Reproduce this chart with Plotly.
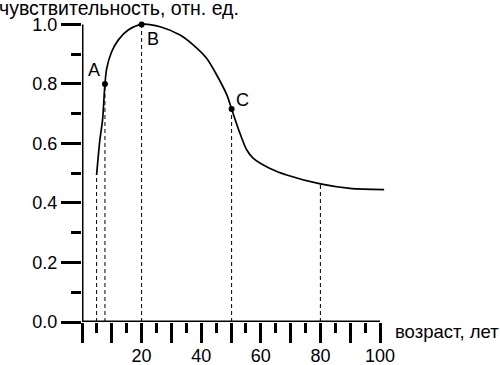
import plotly.graph_objects as go

# Curve data (age, relative sensitivity)
age = [4.9, 6.0, 6.9, 7.7, 8.3, 9.95, 12.2, 15.5, 20.0, 26.2, 32.9, 37.3, 41.8, 45.2,
       48.6, 50.2, 53.0, 55.3, 57.5, 63.1, 68.7, 80.0, 89.9, 101.4]
sens = [0.494, 0.612, 0.679, 0.80, 0.852, 0.908, 0.948, 0.981, 1.0, 0.992, 0.964, 0.931,
        0.886, 0.830, 0.763, 0.716, 0.634, 0.578, 0.550, 0.516, 0.494, 0.464, 0.449, 0.445]

# Marked points
pt_labels = ["A", "B", "C"]
pt_x = [7.7, 20.0, 50.2]
pt_y = [0.80, 1.0, 0.716]

# Dashed drop lines
drop_x = [4.9, 7.7, 20.0, 50.2, 80.0]
drop_y = [0.494, 0.80, 1.0, 0.716, 0.464]

x_ticks = list(range(0, 101, 10))
x_ticktext = ["" if (v % 20 or v == 0) else str(v) for v in x_ticks]
y_ticks = [0.0, 0.2, 0.4, 0.6, 0.8, 1.0]
y_ticktext = ["0.0", "0.2", "0.4", "0.6", "0.8", "1.0"]

FONT = "Liberation Sans, Arial, sans-serif"
W, H = 500, 365

fig = go.Figure()
fig.add_trace(go.Scatter(x=age, y=sens, mode="lines",
                         line=dict(color="black", width=1.7, shape="spline", smoothing=0.8),
                         hoverinfo="skip", showlegend=False))
fig.add_trace(go.Scatter(x=pt_x, y=pt_y, mode="markers",
                         marker=dict(color="black", size=6),
                         cliponaxis=False, showlegend=False))

for xv, yv in zip(drop_x, drop_y):
    fig.add_shape(type="line", x0=xv, x1=xv, y0=0, y1=yv, xref="x", yref="y",
                  line=dict(color="black", width=1, dash="4px,3px"))

# axis lines
fig.add_shape(type="line", x0=0, x1=100, y0=0, y1=0, xref="x", yref="y",
              line=dict(color="black", width=3))
fig.add_shape(type="line", x0=0, x1=0, y0=0, y1=1.0, xref="x", yref="y",
              line=dict(color="black", width=3))

# point labels
offsets = [(-11, 14), (11, -15), (11, 9)]
for lab, xv, yv, (dx, dy) in zip(pt_labels, pt_x, pt_y, offsets):
    fig.add_annotation(x=xv, y=yv, text=lab, showarrow=False, xshift=dx, yshift=dy,
                       font=dict(family=FONT, size=18, color="black"))

fig.add_annotation(x=241 / W, y=1 - 8 / H, xref="paper", yref="paper",
                   text="чувствительность, отн. ед.", showarrow=False,
                   xanchor="right", yanchor="middle",
                   font=dict(family=FONT, size=19.5, color="black"))
fig.add_annotation(x=393 / W, y=1 - 331 / H, xref="paper", yref="paper",
                   text="возраст, лет", showarrow=False,
                   xanchor="left", yanchor="middle",
                   font=dict(family=FONT, size=18.5, color="black"))

x_px0, px_per = 82, 2.98
x_max = 101.6
y_px0, ypx_per = 322, 297.6
y_max = 1.03

fig.update_layout(
    width=W, height=H,
    margin=dict(l=0, r=0, t=0, b=0, autoexpand=False),
    paper_bgcolor="white", plot_bgcolor="white",
    font=dict(family=FONT, size=18, color="black"),
    xaxis=dict(domain=[x_px0 / W, (x_px0 + x_max * px_per) / W], range=[0, x_max],
               showline=False, showgrid=False, zeroline=False, automargin=False,
               tickmode="array", tickvals=x_ticks, ticktext=x_ticktext,
               ticks="outside", ticklen=20, tickwidth=3, tickcolor="black",
               minor=dict(tickvals=[5, 15, 25, 35, 45, 55, 65, 75, 85, 95],
                          ticks="outside", ticklen=10, tickwidth=3, tickcolor="black"),
               tickfont=dict(family=FONT, size=18), ticklabelstandoff=-3),
    yaxis=dict(domain=[(H - y_px0) / H, (H - (y_px0 - y_max * ypx_per)) / H], range=[0, y_max],
               showline=False, showgrid=False, zeroline=False, automargin=False,
               tickmode="array", tickvals=y_ticks, ticktext=y_ticktext,
               ticks="outside", ticklen=20, tickwidth=3, tickcolor="black",
               minor=dict(tickvals=[0.1, 0.3, 0.5, 0.7, 0.9],
                          ticks="outside", ticklen=10, tickwidth=3, tickcolor="black"),
               tickfont=dict(family=FONT, size=18)),
)

fig.write_html("out.html", config={"displayModeBar": False},
               post_script="document.body.style.margin='0px';document.body.style.overflow='hidden';")
